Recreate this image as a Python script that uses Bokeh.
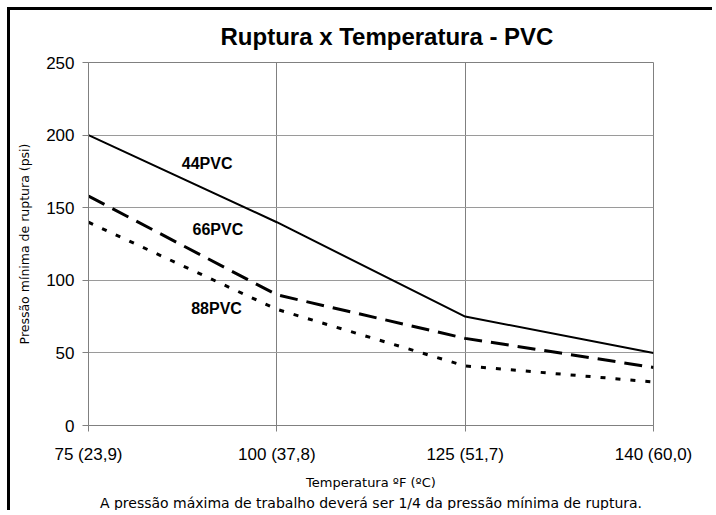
from bokeh.plotting import figure
from bokeh.models import FixedTicker, Range1d, Label, Title
from bokeh.embed import file_html
from bokeh.resources import INLINE

# ---- data ----
temps = ["75 (23,9)", "100 (37,8)", "125 (51,7)", "140 (60,0)"]
x_idx = [0, 1, 2, 3]
pvc44 = [200, 140, 75, 50]
pvc66 = [158, 90, 60, 40]
pvc88 = [140, 80, 41, 30]
y_ticks = [0, 50, 100, 150, 200, 250]

W, H = 705, 503
p = figure(width=W, height=H, output_backend="svg", toolbar_location=None,
           x_range=Range1d(0, 3), y_range=Range1d(0, 250),
           min_border_left=78, min_border_right=62, min_border_top=52, min_border_bottom=88)
p.styles = {"margin-left": "7px", "margin-top": "7px",
            "border-left": "3px solid black", "border-top": "3px solid black"}
p.background_fill_color = "white"
p.border_fill_color = "white"
p.outline_line_color = "#808080"
p.outline_line_width = 1

# title
p.title.text = "Ruptura x Temperatura - PVC"
p.title.text_font = "Liberation Sans"
p.title.text_font_style = "bold"
p.title.text_font_size = "24px"
p.title.text_color = "black"
p.title.align = "left"
p.title.vertical_align = "top"
p.title.offset = 132
p.title.standoff = 22

# axes
p.xaxis.ticker = FixedTicker(ticks=x_idx)
p.xaxis.major_label_overrides = {i: t for i, t in zip(x_idx, temps)}
p.yaxis.ticker = FixedTicker(ticks=y_ticks)
for ax in (p.xaxis[0], p.yaxis[0]):
    ax.axis_line_color = "#808080"
    ax.major_tick_line_color = "#808080"
    ax.major_tick_out = 6
    ax.major_tick_in = 0
    ax.minor_tick_line_color = None
    ax.major_label_text_font = "Liberation Sans"
    ax.major_label_text_font_size = "17px"
    ax.major_label_text_color = "black"
    ax.axis_label_text_font = "DejaVu Sans"
    ax.axis_label_text_font_style = "normal"
    ax.axis_label_text_color = "black"
p.xaxis.major_label_standoff = 13
p.yaxis.major_label_standoff = 8
p.xaxis.axis_label = "Temperatura ºF (ºC)"
p.xaxis.axis_label_text_font_size = "13px"
p.xaxis.axis_label_standoff = 8
p.yaxis.axis_label = "Pressão mínima de ruptura (psi)"
p.yaxis.axis_label_text_font_size = "12.5px"
p.yaxis.axis_label_standoff = 11

p.xgrid.ticker = FixedTicker(ticks=x_idx)
p.xgrid.grid_line_color = "#808080"
p.ygrid.ticker = FixedTicker(ticks=y_ticks)
p.ygrid.grid_line_color = "#9a9a9a"

# footnote
p.add_layout(Title(text="A pressão máxima de trabalho deverá ser 1/4 da pressão mínima de ruptura.",
                   text_font="DejaVu Sans", text_font_size="14px", text_font_style="normal",
                   text_color="black", align="center", standoff=0), "below")

# series
p.line(x_idx, pvc44, line_color="black", line_width=2)
p.line(x_idx, pvc66, line_color="black", line_width=3, line_dash="18 9")
p.line(x_idx, pvc88, line_color="black", line_width=3, line_dash="5 10")

# series labels
for txt, xx, yy in [("44PVC", 0.63, 180.5), ("66PVC", 0.687, 135), ("88PVC", 0.68, 80.6)]:
    p.add_layout(Label(x=xx, y=yy, text=txt, text_font="Liberation Sans",
                       text_font_style="bold", text_font_size="16px", text_color="black",
                       text_align="center", text_baseline="middle"))

html = file_html(p, INLINE)
html = html.replace("<body>", '<body style="background:#eaf3fb">', 1)
open("out.html", "w").write(html)
